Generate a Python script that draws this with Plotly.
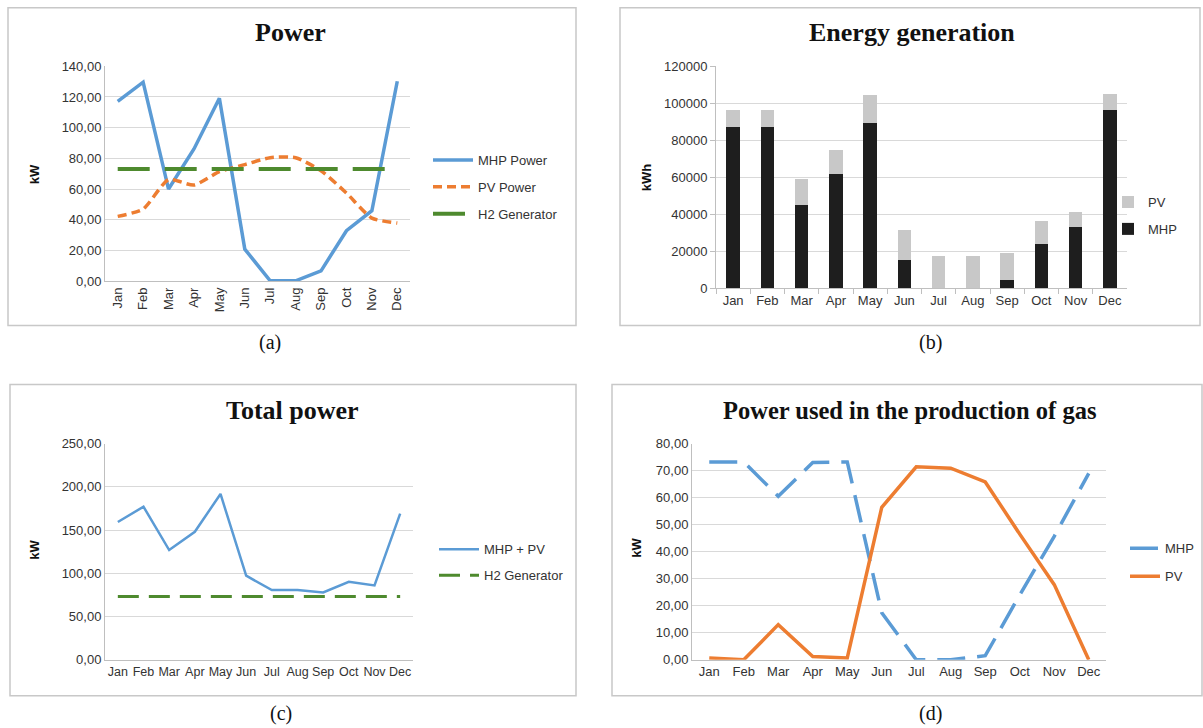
import plotly.graph_objects as go

months = ["Jan", "Feb", "Mar", "Apr", "May", "Jun", "Jul", "Aug", "Sep", "Oct", "Nov", "Dec"]

# (a) Power, kW
mhp_power = [117.2, 129.6, 60.1, 86.2, 119.2, 21.0, 0.4, 0.4, 6.9, 33.0, 46.0, 130.2]
pv_power = [42.3, 47.1, 66.2, 62.7, 71.4, 76.0, 80.5, 80.5, 72.0, 57.5, 41.2, 38.0]
h2_power = [73.1, 73.1, 73.1, 73.1, 73.1, 73.1, 73.1, 73.1, 73.1, 73.1, 73.1, 73.1]

# (b) Energy generation, kWh
mhp_energy = [87100, 87100, 44900, 61600, 89100, 15300, 0, 0, 4500, 23900, 33100, 96600]
pv_energy = [9200, 9200, 14000, 13100, 15600, 16100, 17600, 17600, 14900, 12600, 8400, 8500]

# (c) Total power, kW
total_power = [159.3, 177.0, 126.9, 148.0, 191.7, 97.2, 80.6, 80.6, 77.9, 90.2, 86.0, 169.0]
h2_total = [73.3, 73.3, 73.3, 73.3, 73.3, 73.3, 73.3, 73.3, 73.3, 73.3, 73.3, 73.3]

# (d) Power used in the production of gas, kW
mhp_gas = [73.2, 73.2, 60.5, 73.0, 73.2, 17.4, 0.0, 0.0, 1.5, 24.0, 45.7, 69.0]
pv_gas = [0.7, 0.0, 13.0, 1.2, 0.7, 56.4, 71.4, 70.9, 65.8, 46.5, 27.8, 0.0]

W, H = 1203, 728
# the captured picture covers the page from y=-8 to y=736; map target picture y to page y
CAP_SCALE = 744 / 728
CAP_OFF = 8


def px(x):
    return x / W


def py(y):
    return 1 - (y * CAP_SCALE - CAP_OFF) / H


BLUE = "#5B9BD5"
ORANGE = "#ED7D31"
GREEN = "#4E8A2E"
GRID = "#D9D9D9"
AXL = "#BFBFBF"
FAM = "Liberation Sans, Arial, sans-serif"
TICKF = dict(family=FAM, size=13, color="#333333")
TICKF_C = dict(family=FAM, size=12.5, color="#333333")
LEGF = dict(family=FAM, size=13, color="#333333")

fig = go.Figure()

# (a)
fig.add_trace(go.Scatter(x=months, y=mhp_power, name="MHP Power", mode="lines", legendgroup="a1",
                         line=dict(color=BLUE, width=3.5), xaxis="x", yaxis="y", legend="legend"))
fig.add_trace(go.Scatter(x=months, y=pv_power, name="PV Power", mode="lines", legendgroup="a2",
                         line=dict(color=ORANGE, width=3.5, dash="9px,5px", shape="spline", smoothing=0.6),
                         xaxis="x", yaxis="y", legend="legend"))
fig.add_trace(go.Scatter(x=months, y=h2_power, name="H2 Generator", mode="lines", legendgroup="a3",
                         line=dict(color=GREEN, width=4, dash="32px,15px"), xaxis="x", yaxis="y", legend="legend"))

# (b)
fig.add_trace(go.Bar(x=months, y=mhp_energy, name="MHP", marker=dict(color="#1E1E1E", line=dict(width=0)),
                     legendgroup="b1", legendrank=2, xaxis="x2", yaxis="y2", legend="legend2"))
fig.add_trace(go.Bar(x=months, y=pv_energy, name="PV", marker=dict(color="#C8C8C8", line=dict(width=0)),
                     legendgroup="b2", legendrank=1, xaxis="x2", yaxis="y2", legend="legend2"))

# (c)
fig.add_trace(go.Scatter(x=months, y=total_power, name="MHP + PV", mode="lines", legendgroup="c1",
                         line=dict(color=BLUE, width=2.5), xaxis="x3", yaxis="y3", legend="legend3"))
fig.add_trace(go.Scatter(x=months, y=h2_total, name="H2 Generator", mode="lines", legendgroup="c2",
                         line=dict(color=GREEN, width=3, dash="21px,10px"), xaxis="x3", yaxis="y3", legend="legend3"))

# (d)
fig.add_trace(go.Scatter(x=months, y=mhp_gas, name="MHP", mode="lines", legendgroup="d1",
                         line=dict(color=BLUE, width=3.5, dash="28px,12px"), xaxis="x4", yaxis="y4", legend="legend4"))
fig.add_trace(go.Scatter(x=months, y=pv_gas, name="PV", mode="lines", legendgroup="d2",
                         line=dict(color=ORANGE, width=3.5), xaxis="x4", yaxis="y4", legend="legend4"))


def xax(x0, x1, y_anchor, angle=0, ticks="", font=TICKF):
    return dict(domain=[px(x0), px(x1)], anchor=y_anchor, type="category", range=[-0.5, 11.5],
                showgrid=False, showline=True, linecolor=AXL, linewidth=1, zeroline=False,
                tickangle=angle, tickfont=font, ticks=ticks, ticklen=5, tickcolor=AXL,
                tickson="boundaries" if ticks else None, fixedrange=True)


def yax(y_top, y_bot, x_anchor, rng, dtick, fmt, ticks=""):
    return dict(domain=[py(y_bot), py(y_top)], anchor=x_anchor, range=rng, dtick=dtick, tickformat=fmt,
                showgrid=True, gridcolor=GRID, gridwidth=1, showline=True, linecolor=AXL, linewidth=1,
                zeroline=False, tickfont=TICKF, ticks=ticks, ticklen=5, tickcolor=AXL, fixedrange=True)


def leg(x, y, iw=40, gap=7):
    return dict(x=px(x), y=py(y), xanchor="left", yanchor="top", itemwidth=iw, font=LEGF,
                bgcolor="rgba(0,0,0,0)", traceorder="grouped", tracegroupgap=gap)


ann = []
for txt, x, y, fs in [("<b>Power</b>", 290, 33, 26), ("<b>Energy generation</b>", 912, 33, 26),
                      ("<b>Total power</b>", 292, 411, 26),
                      ("<b>Power used in the production of gas</b>", 909, 411, 24.5)]:
    ann.append(dict(text=txt, x=px(x), y=py(y), xref="paper", yref="paper", showarrow=False,
                    font=dict(family="Liberation Serif, Times New Roman, serif", size=fs, color="#111111"),
                    xanchor="center", yanchor="middle"))
unit_font = dict(family="Liberation Sans, Arial, sans-serif", size=13, color="#111111")
for txt, x, y in [("<b>kW</b>", 34, 175), ("<b>kWh</b>", 646, 178), ("<b>kW</b>", 35, 550), ("<b>kW</b>", 637, 548)]:
    ann.append(dict(text=txt, x=px(x), y=py(y), xref="paper", yref="paper", showarrow=False,
                    font=unit_font, textangle=-90, xanchor="center", yanchor="middle"))
cap_font = dict(family="Liberation Serif, Times New Roman, serif", size=20, color="#111111")
for txt, x, y in [("(a)", 270, 343), ("(b)", 930, 343), ("(c)", 281, 714), ("(d)", 930, 714)]:
    ann.append(dict(text=txt, x=px(x), y=py(y), xref="paper", yref="paper", showarrow=False,
                    font=cap_font, xanchor="center", yanchor="middle"))

shapes = []
for x0, y0, x1, y1 in [(8, 8.6, 576, 326), (620, 8.6, 1200, 326), (10, 385, 576, 696), (612, 385, 1202, 696)]:
    shapes.append(dict(type="rect", xref="paper", yref="paper", x0=px(x0), x1=px(x1), y0=py(y1), y1=py(y0),
                       line=dict(color="#C8C8C8", width=1.5), fillcolor="rgba(0,0,0,0)", layer="below"))

fig.update_layout(
    width=W, height=H, margin=dict(l=0, r=0, t=0, b=0),
    paper_bgcolor="white", plot_bgcolor="white",
    separators=", ", barmode="stack", bargap=0.6,
    xaxis=xax(105, 410, "y", angle=-90),
    yaxis=yax(67, 282, "x", [0, 140], 20, ".2f"),
    xaxis2=xax(716, 1127, "y2", ticks="outside"),
    yaxis2=yax(67, 289, "x2", [0, 120000], 20000, "d", ticks="outside"),
    xaxis3=xax(105, 413, "y3", font=TICKF_C),
    yaxis3=yax(444, 660, "x3", [0, 250], 50, ".2f"),
    xaxis4=xax(692, 1106, "y4"),
    yaxis4=yax(444, 660, "x4", [0, 80], 10, ".2f"),
    legend=leg(428, 145.7),
    legend2=leg(1108, 187.7, iw=30),
    legend3=leg(434, 534.7, gap=6),
    legend4=leg(1125, 533.7, iw=30, gap=8),
    annotations=ann, shapes=shapes,
)

css_fix = (
    "var s=document.createElement('style');"
    "s.innerHTML='html,body{margin:0 !important;padding:0 !important;overflow:hidden !important;}';"
    "document.head.appendChild(s);"
)

fig.write_html("out.html", post_script=css_fix, config={"displayModeBar": False})
